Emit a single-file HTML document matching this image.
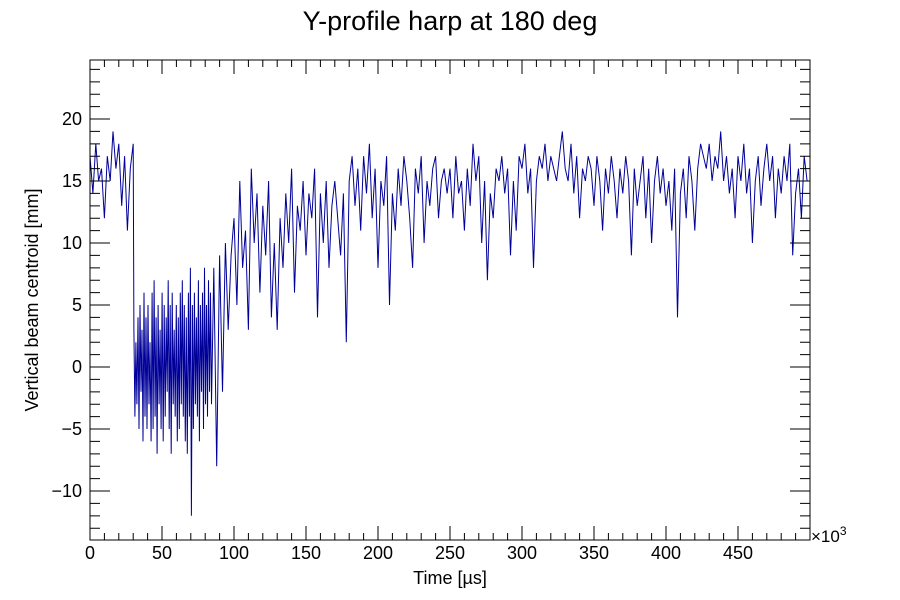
<!DOCTYPE html>
<html><head><meta charset="utf-8"><style>
body{margin:0;background:#fff}
svg{display:block;font-family:"Liberation Sans",sans-serif}
</style></head><body>
<svg id="chart" width="900" height="600" xmlns="http://www.w3.org/2000/svg">
<rect width="900" height="600" fill="#fff"/>
<text x="450" y="30" font-size="27" text-anchor="middle">Y-profile harp at 180 deg</text>
<g id="plot"></g>
<rect x="90" y="60" width="720" height="480" fill="none" stroke="#000" stroke-width="1"/>
<text x="450" y="584" font-size="18" text-anchor="middle">Time [µs]</text>
<text transform="translate(38,300) rotate(-90)" font-size="18" text-anchor="middle">Vertical beam centroid [mm]</text>
<text x="811" y="542" font-size="17">×10<tspan dy="-7" font-size="12">3</tspan></text>
</svg>
<script>
const xTicks=[0,50,100,150,200,250,300,350,400,450];
const yTicks=[-10,-5,0,5,10,15,20];
const startValues=[17,14,18,15,16,12,17,15,19,16,18,13,17,11,16,18];
const startX=0, startStep=2;
const blobHigh=[3,2,4,5,3,6,4,5,2,6,7,4,5,3,6,5,4,7,5,6,3,5,4,6,7,5,4,6,8,5,6,4,7,5,6,8,5,7,6];
const blobLow=[-4,-3,-5,-2,-6,-4,-5,-3,-6,-5,-4,-7,-3,-5,-6,-4,-2,-5,-7,-3,-4,-6,-5,-3,-4,-6,-7,-4,-12,-5,-3,-4,-6,-2,-5,-3,-4,-2,-3];
const blobX=30.5, blobStep=0.7;
const restValues=[8,-8,9,-2,10,3,9,
12,5,15,8,11,3,16,10,14,6,13,9,15,4,10,
3,12,8,14,10,16,6,13,11,15,9,14,12,16,4,14,10,15,8,13,15,12,9,14,2,
15,17,13,16,11,17,14,18,12,16,8,15,13,17,5,14,11,16,13,17,15,12,8,16,14,17,10,15,13,16,17,12,15,16,14,
16,12,17,14,15,11,16,13,18,15,17,10,15,7,14,12,16,15,17,14,16,9,15,11,17,16,18,14,16,8,
15,17,16,18,15,17,16,15,17,19,16,15,18,14,17,12,16,15,17,16,13,17,15,11,16,14,17,15,12,16,14,17,15,9,16,13,15,17,12,16,10,15,17,14,16,13,15,11,16,4,
14,16,12,17,15,11,16,18,17,16,18,15,17,16,19,15,17,14,16,12,17,15,18,14,16,10,15,17,13,16,18,15,17,12,16,14,17,15,18,9,14,16,12,17,15];
const restX=86, restStep=2;
const X0=90,X1=810,Y0=540,Y1=60,xmin=0,xmax=500,ymin=-13.95,ymax=24.76;
const sx=v=>X0+(v-xmin)/(xmax-xmin)*(X1-X0);
const sy=v=>Y0-(v-ymin)/(ymax-ymin)*(Y0-Y1);
const NS="http://www.w3.org/2000/svg";
const g=document.getElementById('plot');
function mk(t,a){const e=document.createElementNS(NS,t);for(const k in a)e.setAttribute(k,a[k]);g.appendChild(e);return e;}
const pts=[];
startValues.forEach((v,i)=>pts.push([startX+i*startStep,v]));
blobHigh.forEach((v,i)=>{pts.push([blobX+(2*i)*blobStep,v]);if(i<blobLow.length)pts.push([blobX+(2*i+1)*blobStep,blobLow[i]]);});
restValues.forEach((v,i)=>pts.push([restX+i*restStep,v]));
let d='';
pts.forEach((p,i)=>{d+=(i?'L':'M')+sx(p[0]).toFixed(1)+' '+sy(p[1]).toFixed(1);});
const line=mk('path',{d:d,fill:'none',stroke:'#000099','stroke-width':1});


for(let v=0;v<500;v+=10){
  const major=v%50===0,L=major?14:7,x=sx(v);
  const t=mk('path',{d:`M${x} ${Y0}V${Y0-L}M${x} ${Y1}V${Y1+L}`,stroke:'#000','stroke-width':1});
  
  
}
xTicks.forEach(v=>{
  const t=mk('text',{x:sx(v),y:559,'font-size':18,'text-anchor':'middle'});t.textContent=v;
  
  
});
for(let v=-13;v<=24;v+=1){
  const major=v%5===0,L=major?20:10,y=sy(v);
  const t=mk('path',{d:`M${X0} ${y}H${X0+L}M${X1} ${y}H${X1-L}`,stroke:'#000','stroke-width':1});
  
  
}
yTicks.forEach(v=>{
  const t=mk('text',{x:82,y:sy(v)+6,'font-size':18,'text-anchor':'end'});t.textContent=v<0?'\u2212'+(-v):v;
  
  
});
</script>
</body></html>
